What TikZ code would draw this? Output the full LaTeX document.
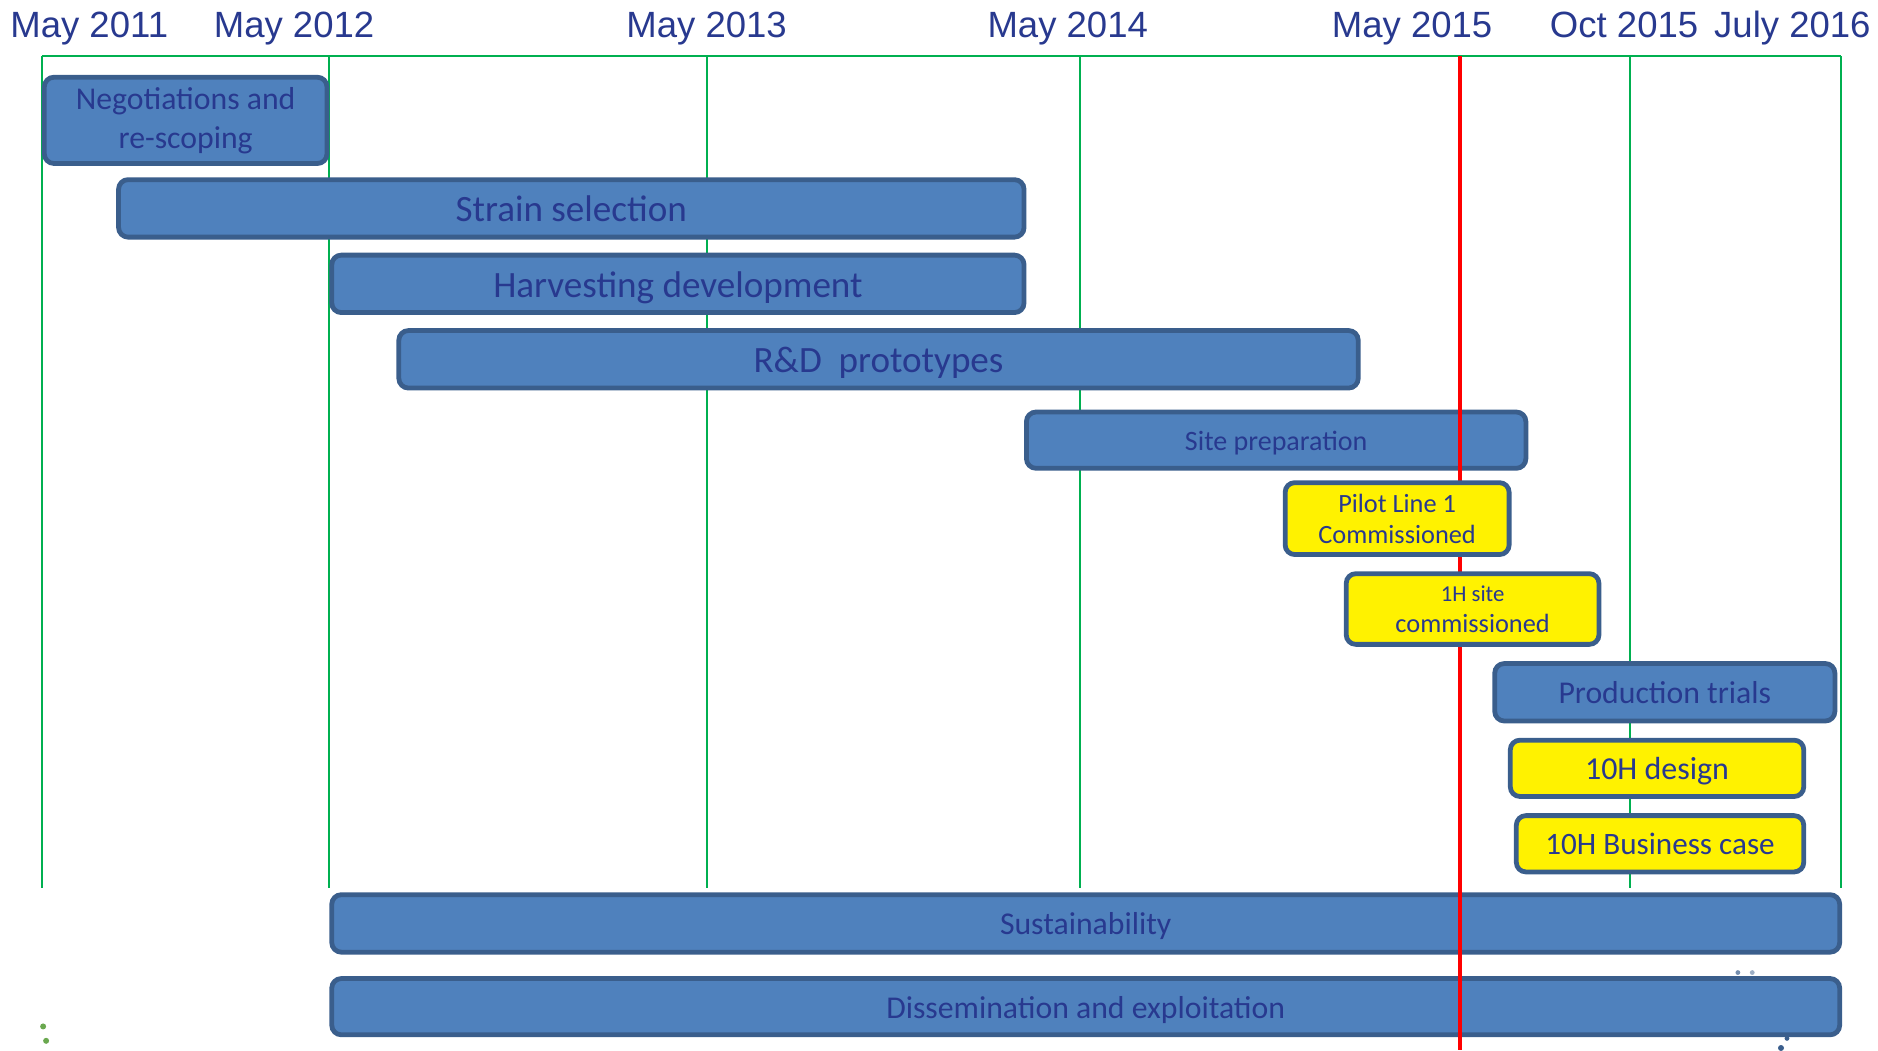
\documentclass[tikz,border=0pt]{standalone}
\usepackage{fontspec}
\setmainfont{Carlito}
\newfontfamily\hdrfont{Liberation Sans}
\definecolor{barfill}{HTML}{4F81BD}
\definecolor{barline}{HTML}{3A5E8C}
\definecolor{txtblue}{HTML}{28398F}
\definecolor{gridgreen}{HTML}{00B050}
\definecolor{redline}{HTML}{FF0000}
\definecolor{dotgreen}{HTML}{6AA84F}
\newcommand{\fsz}[2]{\fontsize{#1}{#2}\selectfont}
\begin{document}
\begin{tikzpicture}[x=1pt,y=-1pt,
  bar/.style={draw=barline, fill=barfill, line width=4pt, rounded corners=8pt,
              inner sep=0pt, text=txtblue, align=center},
  oneline/.style={text height=#1, text depth=0pt},
  milestone/.style={bar, fill=yellow},
  hdr/.style={anchor=base, text=txtblue, font=\hdrfont\fsz{30.5}{36}, inner sep=0pt},
  gridline/.style={draw=gridgreen, line width=1.5pt},
  today/.style={draw=redline, line width=3.5pt}
]
\useasboundingbox (0,0) rectangle (1568,877);

% header labels
\node[hdr] (h11) at (74.5,31) {May 2011};
\node[hdr] (h12) at (245.5,31) {May 2012};
\node[hdr] (h13) at (590,31) {May 2013};
\node[hdr] (h14) at (891.5,31) {May 2014};
\node[hdr] (h15) at (1179,31) {May 2015};
\node[hdr] (h15b) at (1356,31) {Oct 2015};
\node[hdr] (h16) at (1496.5,31) {July 2016};

% grid
\coordinate (tl) at (35,47);
\coordinate (tr) at (1537,47);
\draw[gridline, line width=2pt] (tl) -- (tr);
\foreach \gx [count=\i] in {35,275,590,902,1219,1361,1537}{
  \coordinate (gt\i) at (\gx,47);
  \coordinate (gb\i) at (\gx,741);
  \draw[gridline] (gt\i) -- (gb\i);
}

% blue bars
\node[bar, minimum width=236pt, minimum height=72pt, font=\fsz{26.5}{32.5}] (neg) at (155,100.5) {Negotiations and\\re-scoping};
\node[bar, oneline=22.3pt, minimum width=756pt, minimum height=48pt, font=\fsz{31}{36}] (strain) at (477,174) {Strain selection};
\node[bar, oneline=22.3pt, minimum width=578pt, minimum height=48pt, font=\fsz{31}{36}] (harv) at (566,237) {Harvesting development};
\node[bar, oneline=22.3pt, minimum width=801pt, minimum height=48pt, font=\fsz{31}{36}] (rd) at (733.5,300) {R\&D\ \ prototypes};
\node[bar, oneline=16.8pt, minimum width=417pt, minimum height=47pt, font=\fsz{23.4}{28}] (site) at (1065.5,367.5) {Site preparation};
\node[bar, oneline=19.1pt, minimum width=284pt, minimum height=48pt, font=\fsz{26.5}{32}] (prod) at (1390,578) {Production trials};
\node[bar, oneline=19.1pt, minimum width=1259pt, minimum height=48pt, font=\fsz{26.5}{32}] (sust) at (906.5,771) {Sustainability};
\node[bar, oneline=19.1pt, minimum width=1259pt, minimum height=47pt, font=\fsz{26.5}{32}] (diss) at (906.5,840.5) {Dissemination and exploitation};

% today line
\coordinate (rtop) at (1219,47);
\coordinate (rbot) at (1219,877);
\draw[today] (rtop) -- (rbot);

% milestones
\node[milestone, minimum width=187pt, minimum height=60pt, font=\fsz{22}{26}] (pilot) at (1166.5,433) {Pilot Line 1\\Commissioned};
\node[milestone, minimum width=211pt, minimum height=59pt, font=\fsz{22}{26}] (oneh) at (1229.5,508.5) {{\fsz{19}{26}1H site}\\commissioned};
\node[milestone, oneline=19.2pt, minimum width=245pt, minimum height=47pt, font=\fsz{26.7}{32}] (tenhd) at (1383.5,641.5) {10H design};
\node[milestone, oneline=18.7pt, minimum width=240pt, minimum height=47pt, font=\fsz{26}{32}] (tenhb) at (1386,704.5) {10H Business case};

% small stray marks
\fill[dotgreen] (36,857) circle (2.5pt);
\fill[dotgreen] (38.5,869) circle (2.5pt);
\fill[barline, opacity=0.7] (1451,812) circle (2pt);
\fill[barline, opacity=0.5] (1463,812) circle (2pt);
\fill[barline] (1492,867) circle (2pt);
\fill[barline] (1487,875) circle (2.5pt);
\end{tikzpicture}
\end{document}
